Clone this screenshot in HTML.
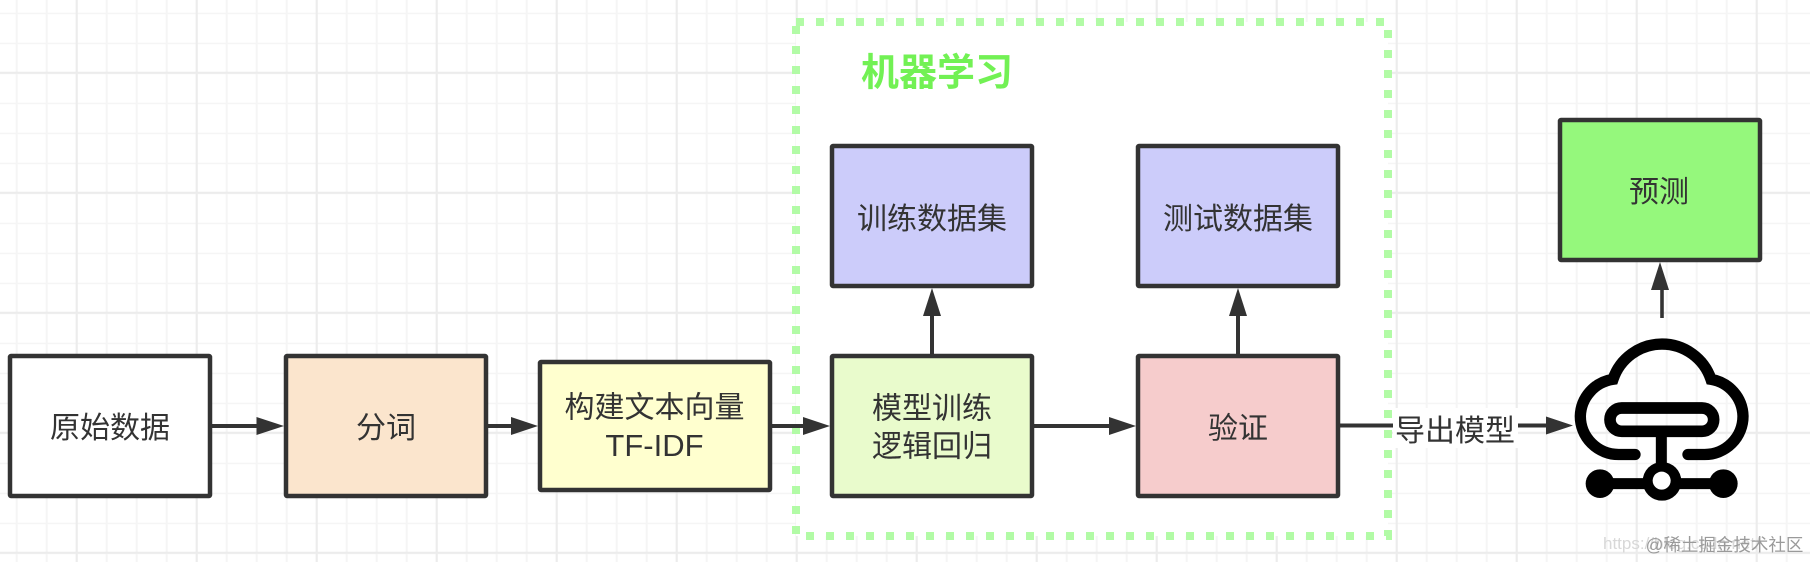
<!DOCTYPE html>
<html>
<head>
<meta charset="utf-8">
<style>
html,body{margin:0;padding:0;background:#fff;width:1810px;height:562px;overflow:hidden}
svg{display:block;filter:blur(.35px)}
text{font-family:"Liberation Sans","Noto Sans CJK SC",sans-serif;fill:#333;font-size:30px;text-anchor:middle}
.box{stroke:#333;stroke-width:4.5;stroke-linejoin:round}
.ln{stroke:#333;stroke-width:4;fill:none}
.hd{fill:#333;stroke:none}
</style>
</head>
<body>
<svg width="1810" height="562" viewBox="0 0 1810 562" xmlns="http://www.w3.org/2000/svg">
<defs>
<pattern id="gMin" width="30" height="30" patternUnits="userSpaceOnUse" x="1.7" y="12.7">
<path d="M15 0V30" stroke="#f5f5f5" stroke-width="2" fill="none"/>
<path d="M0 0H30" stroke="#f5f5f5" stroke-width="3" fill="none"/>
</pattern>
<pattern id="gMaj" width="120" height="120" patternUnits="userSpaceOnUse" x="16.7" y="12.7">
<path d="M60 0V120" stroke="#ececec" stroke-width="2" fill="none"/>
<path d="M0 60H120" stroke="#ececec" stroke-width="2" fill="none"/>
</pattern>
</defs>
<rect width="1810" height="562" fill="#fff"/>
<rect width="1810" height="562" fill="url(#gMin)"/>
<rect width="1810" height="562" fill="url(#gMaj)"/>

<!-- machine learning group -->
<rect x="796" y="22" width="592" height="514" fill="#fff" stroke="#b2fba6" stroke-width="8" stroke-dasharray="8 12"/>
<text x="937" y="85.5" style="font-size:38px;font-weight:700;fill:#72f154">机器学习</text>

<!-- connectors -->
<path class="ln" d="M211 426H258"/><path class="hd" d="M256.5 417L284 426L256.5 435Z"/>
<path class="ln" d="M487 426H513"/><path class="hd" d="M511 417L538 426L511 435Z"/>
<path class="ln" d="M771 426H805"/><path class="hd" d="M803 417L830 426L803 435Z"/>
<path class="ln" d="M1034 426H1111"/><path class="hd" d="M1109 417L1136 426L1109 435Z"/>
<path class="ln" d="M932 354V314"/><path class="hd" d="M923 316L932 288L941 316Z"/>
<path class="ln" d="M1238 354V314"/><path class="hd" d="M1229 316L1238 288L1247 316Z"/>
<path class="ln" d="M1662 318V288" style="stroke-width:3.6"/><path class="hd" d="M1651 290L1660 262L1669 290Z"/>

<!-- boxes -->
<rect class="box" x="10" y="356" width="200" height="140" rx="1" fill="#fff"/>
<rect class="box" x="286" y="356" width="200" height="140" rx="1" fill="#fbe5cd"/>
<rect class="box" x="540" y="362" width="230" height="128" rx="1" fill="#ffffcf"/>
<rect class="box" x="832" y="146" width="200" height="140" rx="1" fill="#ccccfa"/>
<rect class="box" x="1138" y="146" width="200" height="140" rx="1" fill="#ccccfa"/>
<rect class="box" x="832" y="356" width="200" height="140" rx="1" fill="#e9fbcc"/>
<rect class="box" x="1138" y="356" width="200" height="140" rx="1" fill="#f6cccc"/>
<rect class="box" x="1560" y="120" width="200" height="140" rx="1" fill="#95f87c"/>

<text x="110" y="438">原始数据</text>
<text x="386" y="438">分词</text>
<text x="654.5" y="417.5">构建文本向量</text>
<text x="654.5" y="456" style="font-size:31px">TF-IDF</text>
<text x="932" y="229">训练数据集</text>
<text x="1238" y="229">测试数据集</text>
<text x="932" y="418.5">模型训练</text>
<text x="932" y="456.5">逻辑回归</text>
<text x="1238" y="438.5">验证</text>
<text x="1659" y="202">预测</text>

<!-- export edge -->
<path class="ln" d="M1340 425.5H1394"/>
<rect x="1393" y="408" width="125" height="40" fill="#fff"/>
<text x="1455" y="441">导出模型</text>
<path class="ln" d="M1518 425.5H1548"/><path class="hd" d="M1546 416.5L1573 425.5L1546 434.5Z"/>

<!-- cloud icon -->
<g transform="translate(1330,100) scale(0.33333)">
<path d="M915 1063.5H866A115 115 0 0 1 751 948.5A115 115 0 0 1 849 838A155 155 0 0 1 1143 838A115 115 0 0 1 1239 948.5A115 115 0 0 1 1124 1063.5H1074" fill="none" stroke="#000" stroke-width="34" stroke-linecap="round" stroke-linejoin="miter"/>
<rect x="840" y="924" width="311" height="70" rx="35" fill="none" stroke="#000" stroke-width="35"/>
<path d="M994 1005V1100" stroke="#000" stroke-width="33" fill="none"/>
<path d="M810 1151H1180" stroke="#000" stroke-width="33" fill="none"/>
<circle cx="810" cy="1151" r="43" fill="#000"/>
<circle cx="1180" cy="1151" r="43" fill="#000"/>
<circle cx="996" cy="1144" r="58" fill="#000"/>
<circle cx="995" cy="1142" r="27" fill="#fff"/>
</g>

<!-- watermark -->
<text x="1603" y="549" style="font-size:17px;text-anchor:start;fill:#d8d8d8">https://blog.csdn.net/</text>
<text x="1724.5" y="551" style="font-size:17.5px;fill:#9a9a9a">@稀土掘金技术社区</text>
</svg>
</body>
</html>
